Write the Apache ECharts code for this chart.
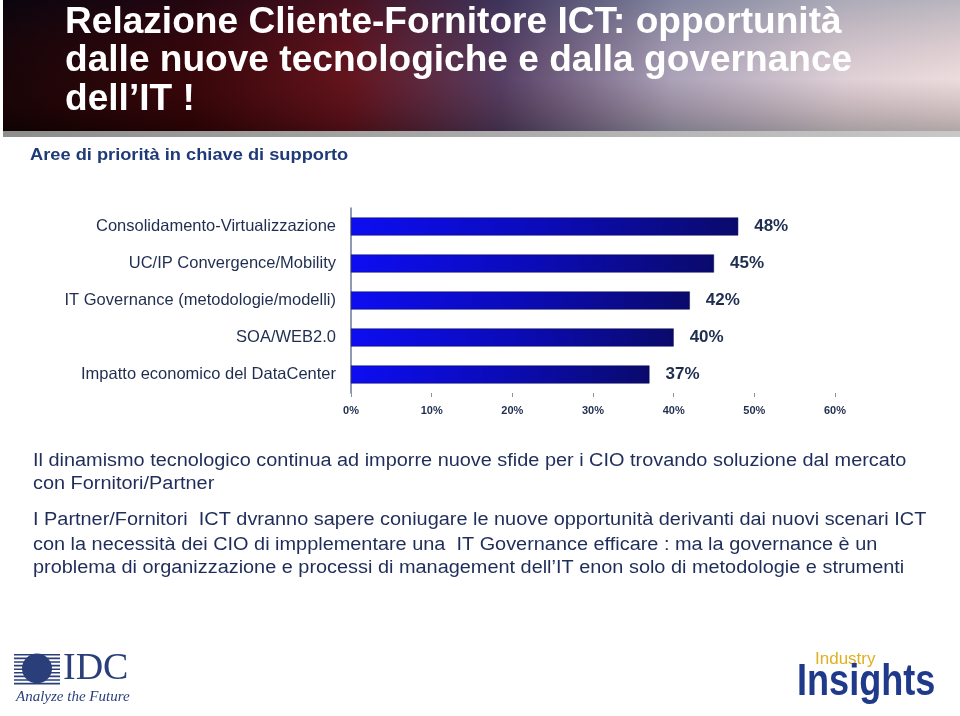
<!DOCTYPE html>
<html>
<head>
<meta charset="utf-8">
<script src="https://cdn.jsdelivr.net/npm/echarts@6/dist/echarts.min.js"></script>
<style>
  html, body { margin: 0; padding: 0; background: #fff; }
  #chart { width: 960px; height: 716px; }
</style>
</head>
<body>
<div id="chart"></div>
<script>
const categories = [
  "Consolidamento-Virtualizzazione",
  "UC/IP Convergence/Mobility",
  "IT Governance (metodologie/modelli)",
  "SOA/WEB2.0",
  "Impatto economico del DataCenter"
];
const values = [48, 45, 42, 40, 37];
const xTicks = [0, 10, 20, 30, 40, 50, 60];

const titleLines = [
  "Relazione Cliente-Fornitore ICT: opportunità",
  "dalle nuove tecnologiche e dalla governance",
  "dell\u2019IT !"
];
const subtitle = "Aree di priorità in chiave di supporto";
const bodyLines = [
  "Il dinamismo tecnologico continua ad imporre nuove sfide per i CIO trovando soluzione dal mercato",
  "con Fornitori/Partner",
  "I Partner/Fornitori  ICT dvranno sapere coniugare le nuove opportunità derivanti dai nuovi scenari ICT",
  "con la necessità dei CIO di impplementare una  IT Governance efficare : ma la governance è un",
  "problema di organizzazione e processi di management dell\u2019IT enon solo di metodologie e strumenti"
];

const navy = "#1f2d4f";
const font = "'Liberation Sans', Arial, sans-serif";
const chart = echarts.init(document.getElementById("chart"));

// testo allargato in orizzontale come nella slide
function wideText(t, x, y, css, fill, sx, extra) {
  return Object.assign({
    type: "text",
    x: x, y: y, scaleX: sx, scaleY: 1,
    style: { text: t, x: 0, y: 0, font: css, fill: fill, verticalAlign: "middle" }
  }, extra || {});
}

const titleY = [23, 61.5, 100];
const titleGraphics = titleLines.map((t, i) =>
  wideText(t, 65, titleY[i], "bold 36px " + font, "#fff", 1.03, { z: 10 }));

const bodyY = [461, 484, 520, 545, 568];
const bodyGraphics = bodyLines.map((t, i) =>
  wideText(t, 33, bodyY[i], "18px " + font, "#1f2d5a", 1.105));

// logo IDC a strisce
const idcStripes = [];
for (let i = 0; i < 9; i++) {
  idcStripes.push({
    type: "rect",
    shape: { x: 14, y: 654 + i * 3.6, width: 46, height: 1.6 },
    style: { fill: "#2a3f7a" }
  });
}

const option = {
  animation: false,
  backgroundColor: "#ffffff",
  grid: { left: 351, top: 208, width: 484, height: 185, containLabel: false },
  xAxis: {
    type: "value",
    min: 0, max: 60, interval: 10,
    axisLine: { show: false },
    axisTick: { show: true, length: 4, lineStyle: { color: "#8a94a8" } },
    splitLine: { show: false },
    axisLabel: {
      formatter: v => xTicks.includes(v) ? v + "%" : "",
      color: navy, fontSize: 11, fontWeight: "bold",
      fontFamily: font, margin: 12
    }
  },
  yAxis: {
    type: "category",
    data: categories,
    inverse: true,
    axisLine: { show: true, lineStyle: { color: "#6a7896", width: 1.5 } },
    axisTick: { show: false },
    axisLabel: { color: navy, fontSize: 16.5, margin: 15, fontFamily: font }
  },
  series: [{
    type: "bar",
    data: values,
    barWidth: 18,
    itemStyle: {
      color: new echarts.graphic.LinearGradient(0, 0, 1, 0, [
        { offset: 0, color: "#0d0df2" },
        { offset: 0.5, color: "#0b0bb8" },
        { offset: 1, color: "#0a0a6c" }
      ]),
      borderColor: "#08084a", borderWidth: 0.5
    },
    label: {
      show: true, position: "right", distance: 16,
      formatter: "{c}%", color: navy, fontSize: 17, fontWeight: "bold",
      fontFamily: font
    }
  }],
  graphic: [
    {
      type: "rect", z: 1,
      shape: { x: 3, y: 0, width: 957, height: 131 },
      style: {
        fill: new echarts.graphic.LinearGradient(0, 0, 1, 0, [
          { offset: 0, color: "#060304" },
          { offset: 0.2, color: "#2a0406" },
          { offset: 0.36, color: "#5e141c" },
          { offset: 0.52, color: "#4e4670" },
          { offset: 0.7, color: "#b2bcd4" },
          { offset: 0.88, color: "#eef1f6" },
          { offset: 1, color: "#ffffff" }
        ])
      }
    },
    {
      type: "rect", z: 2,
      shape: { x: 3, y: 0, width: 957, height: 131 },
      style: {
        fill: new echarts.graphic.LinearGradient(0, 0, 0, 1, [
          { offset: 0, color: "rgba(20,10,40,0.3)" },
          { offset: 0.6, color: "rgba(130,20,30,0.15)" },
          { offset: 1, color: "rgba(30,0,0,0.35)" }
        ])
      }
    },
    {
      type: "rect", z: 2,
      shape: { x: 3, y: 131, width: 957, height: 6 },
      style: {
        fill: new echarts.graphic.LinearGradient(0, 0, 1, 0, [
          { offset: 0, color: "#8d8d8d" },
          { offset: 1, color: "#c8c8c8" }
        ])
      }
    },
    ...titleGraphics,
    wideText(subtitle, 30, 156, "bold 16px " + font, "#1f3a78", 1.14),
    ...bodyGraphics,
    ...idcStripes,
    {
      type: "circle",
      shape: { cx: 37, cy: 668.5, r: 15 },
      style: { fill: "#2a3f7a" }
    },
    {
      type: "text",
      style: {
        text: "IDC", x: 63, y: 669,
        font: "38px 'Liberation Serif', serif",
        fill: "#2a3f7a", verticalAlign: "middle"
      }
    },
    {
      type: "text",
      style: {
        text: "Analyze the Future", x: 16, y: 697,
        font: "italic 15px 'Liberation Serif', serif",
        fill: "#2a3f7a", verticalAlign: "middle"
      }
    },
    {
      type: "text",
      style: {
        text: "Industry", x: 815, y: 659,
        font: "17px " + font,
        fill: "#e0b020", verticalAlign: "middle"
      }
    },
    wideText("Insights", 797, 683, "bold 44px " + font, "#1f3a8a", 0.82)
  ]
};

chart.setOption(option);
</script>
</body>
</html>
